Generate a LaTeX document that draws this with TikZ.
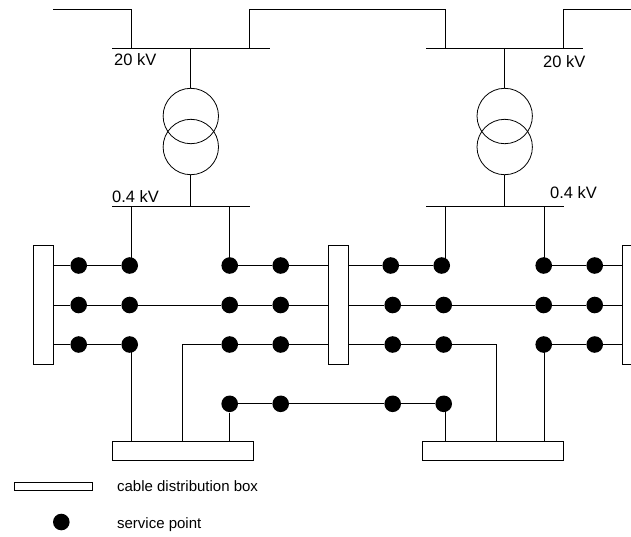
\documentclass[tikz,border=0pt]{standalone}
\usepackage{fontspec}
\setmainfont{Liberation Sans}

\begin{document}
\begin{tikzpicture}[
    x=1pt, y=-1pt,
    line width=0.8pt,
    spoint/.style={circle, fill=black, inner sep=0pt, minimum size=16.6pt},
    bus/.style={rectangle, fill=black, inner sep=0pt, minimum height=0.8pt},
    coil/.style={circle, draw, inner sep=0pt, minimum size=55.4pt},
    vbox/.style={rectangle, draw, fill=white, inner sep=0pt, minimum width=20pt, minimum height=118.3pt},
    hbox/.style={rectangle, draw, fill=white, inner sep=0pt, minimum width=141.3pt, minimum height=19.7pt},
    volt/.style={inner sep=0pt, anchor=west, font=\fontsize{16.5}{18}\selectfont},
    legend/.style={inner sep=0pt, anchor=west, font=\fontsize{15}{16}\selectfont}
  ]
  \useasboundingbox (0,0) rectangle (631,536);

  % busbars
  \node[bus, minimum width=157.5pt] (hvl) at (190.8,48.5) {};
  \node[bus, minimum width=157pt] (hvr) at (504.5,48.5) {};
  \node[bus, minimum width=137.5pt] (lvl) at (180.8,206.5) {};
  \node[bus, minimum width=137.5pt] (lvr) at (494.8,206.5) {};

  % transformers
  \node[coil] (tul) at (190.8,116) {};
  \node[coil] (tll) at (190.8,147) {};
  \node[coil] (tur) at (504.7,116) {};
  \node[coil] (tlr) at (504.7,147) {};

  % boxes
  \node[vbox] (boxa) at (43.5,304.8) {};
  \node[vbox] (boxb) at (338,304.8) {};
  \node[vbox] (boxc) at (632.3,304.8) {};
  \node[hbox] (boxd) at (182.9,450.8) {};
  \node[hbox] (boxe) at (492.8,450.8) {};
  \node[rectangle, draw, fill=white, inner sep=0pt, minimum width=78.7pt, minimum height=8.4pt] (boxk) at (53.4,486.5) {};

  % service points, row by row
  \node[spoint] (a1) at (78.7,265.5) {};
  \node[spoint] (a2) at (129.7,265.5) {};
  \node[spoint] (a3) at (229.7,265.5) {};
  \node[spoint] (a4) at (280.7,265.5) {};
  \node[spoint] (a5) at (390.7,265.5) {};
  \node[spoint] (a6) at (441.7,265.5) {};
  \node[spoint] (a7) at (543.7,265.5) {};
  \node[spoint] (a8) at (594.7,265.5) {};

  \node[spoint] (b1) at (78.7,305) {};
  \node[spoint] (b2) at (129.7,305) {};
  \node[spoint] (b3) at (229.7,305) {};
  \node[spoint] (b4) at (280.7,305) {};
  \node[spoint] (b5) at (392.7,305) {};
  \node[spoint] (b6) at (443.7,305) {};
  \node[spoint] (b7) at (543.7,305) {};
  \node[spoint] (b8) at (594.7,305) {};

  \node[spoint] (c1) at (78.7,344.5) {};
  \node[spoint] (c2) at (129.7,344.5) {};
  \node[spoint] (c3) at (229.7,344.5) {};
  \node[spoint] (c4) at (280.7,344.5) {};
  \node[spoint] (c5) at (392.7,344.5) {};
  \node[spoint] (c6) at (443.7,344.5) {};
  \node[spoint] (c7) at (543.7,344.5) {};
  \node[spoint] (c8) at (594.7,344.5) {};

  \node[spoint] (d1) at (229.7,403.8) {};
  \node[spoint] (d2) at (280.7,403.8) {};
  \node[spoint] (d3) at (392.7,403.8) {};
  \node[spoint] (d4) at (443.7,403.8) {};

  \node[spoint] (keydot) at (61.3,522) {};

  % junctions and free ends
  \coordinate (fa) at (53,9);
  \coordinate (fb) at (631,9);
  \coordinate (ja) at (131.5,48.5);
  \coordinate (jb) at (249.5,48.5);
  \coordinate (jc) at (445.8,48.5);
  \coordinate (jd) at (563.5,48.5);
  \coordinate (je) at (131.5,206.5);
  \coordinate (jf) at (229.8,206.5);
  \coordinate (jg) at (445.8,206.5);
  \coordinate (jh) at (544,206.5);
  \coordinate (ji) at (182.7,441);
  \coordinate (jj) at (496.7,441);

  % feeders
  \draw (fa) -| (ja);
  \draw (jb) |- (fa -| jc) -- (jc);
  \draw (jd) |- (fb);

  \draw (hvl) -- (tul);
  \draw (tll) -- (tll |- lvl);
  \draw (tur |- hvr) -- (tur);
  \draw (tlr) -- (tlr |- lvr);

  \draw (je) -- (je |- a2);
  \draw (jf) -- (jf |- a3);
  \draw (jg) -- (jg |- a6);
  \draw (jh) -- (jh |- a7);

  % rows
  \draw (a1 -| boxa.east) -- (a1) -- (a2);
  \draw (a3) -- (a4) -- (a4 -| boxb.west);
  \draw (a5 -| boxb.east) -- (a5) -- (a6);
  \draw (a7) -- (a8) -- (a8 -| boxc.west);

  \draw (b1 -| boxa.east) -- (b1) -- (b2) -- (b3) -- (b4) -- (b4 -| boxb.west);
  \draw (b5 -| boxb.east) -- (b5) -- (b6) -- (b7) -- (b8) -- (b8 -| boxc.west);

  \draw (c1 -| boxa.east) -- (c1) -- (c2);
  \draw (ji) |- (c3) -- (c4) -- (c4 -| boxb.west);
  \draw (c5 -| boxb.east) -- (c5) -- (c6) -| (jj);
  \draw (c7) -- (c8) -- (c8 -| boxc.west);

  \draw (d1) -- (d2) -- (d3) -- (d4);

  % down to the boxes
  \draw (je |- c2) -- (je |- boxd.north);
  \draw (d1) -- (d1 |- boxd.north);
  \draw (jg |- d4) -- (jg |- boxe.north);
  \draw (jh |- c7) -- (jh |- boxe.north);

  % labels
  \node[volt] (lhvl) at (113.7,59.5) {20 kV};
  \node[volt] (llvl) at (111.7,197) {0.4 kV};
  \node[volt] (lhvr) at (542.7,62) {20 kV};
  \node[volt] (llvr) at (549.7,193) {0.4 kV};

  \node[legend] (lkbox) at (116.7,486.5) {cable distribution box};
  \node[legend] (lkdot) at (116.7,525) {service point};
\end{tikzpicture}
\end{document}
